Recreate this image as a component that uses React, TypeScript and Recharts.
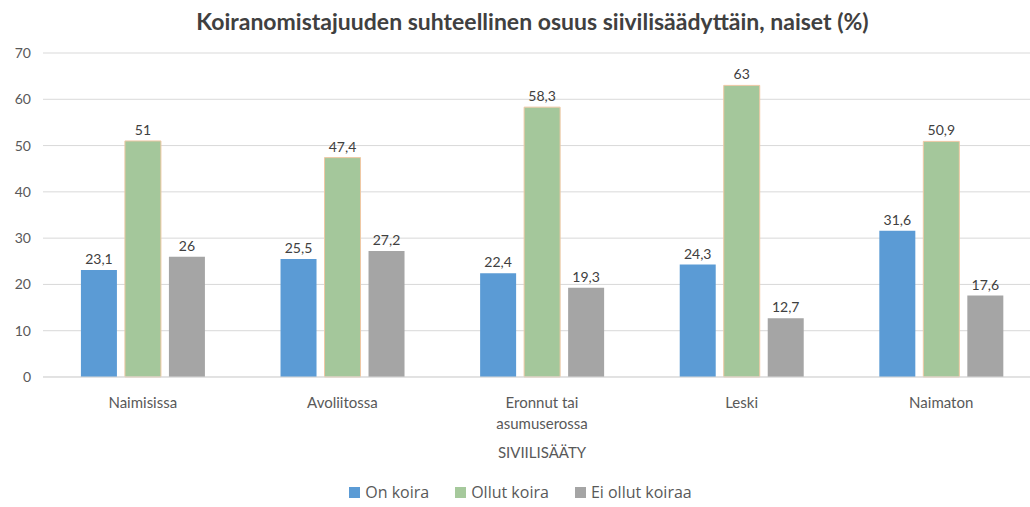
import React from "react";
import {
  Bar,
  BarChart,
  CartesianGrid,
  LabelList,
  Legend,
  XAxis,
  YAxis,
} from "recharts";

const categories = [
  "Naimisissa",
  "Avoliitossa",
  "Eronnut tai asumuserossa",
  "Leski",
  "Naimaton",
];
const onKoira = [23.1, 25.5, 22.4, 24.3, 31.6];
const ollutKoira = [51, 47.4, 58.3, 63, 50.9];
const eiOllut = [26, 27.2, 19.3, 12.7, 17.6];
const yTicks = [0, 10, 20, 30, 40, 50, 60, 70];

const series = [
  { key: "on", name: "On koira", color: "#5b9bd5" },
  { key: "ollut", name: "Ollut koira", color: "#a6c99c" },
  { key: "ei", name: "Ei ollut koiraa", color: "#a5a5a5" },
];

const data = categories.map((name, i) => ({
  name,
  on: onKoira[i],
  ollut: ollutKoira[i],
  ei: eiOllut[i],
}));

const FONT = "Lato, 'Open Sans', sans-serif";
const fmt = (v: number) => String(v).replace(".", ",");

function CatTick({ x, y, payload }: any) {
  const lines =
    payload.value === "Eronnut tai asumuserossa"
      ? ["Eronnut tai", "asumuserossa"]
      : [payload.value];
  return (
    <text x={x} y={y} textAnchor="middle" fill="#595959" fontSize={15} fontFamily={FONT}>
      {lines.map((l, i) => (
        <tspan key={i} x={x} dy={i === 0 ? 23 : 21}>
          {l}
        </tspan>
      ))}
    </text>
  );
}

function LegendBox() {
  return (
    <div
      style={{
        display: "flex",
        justifyContent: "center",
        gap: 26,
        fontFamily: "'Open Sans', sans-serif",
        fontSize: 16,
        color: "#595959",
        paddingLeft: 0,
      }}
    >
      {series.map((s) => (
        <span key={s.key} style={{ display: "flex", alignItems: "center", gap: 5 }}>
          <span style={{ width: 11, height: 11, background: s.color, display: "inline-block" }} />
          {s.name}
        </span>
      ))}
    </div>
  );
}

export default function App() {
  return (
    <div
      style={{
        position: "absolute",
        left: 0,
        top: 0,
        width: 1030,
        height: 507,
        overflow: "hidden",
        background: "#fff",
      }}
    >
      <div
        style={{
          position: "absolute",
          top: 7,
          left: 0,
          width: 1065,
          textAlign: "center",
          fontFamily: FONT,
          fontWeight: 700,
          fontSize: 23,
          color: "#404040",
        }}
      >
        Koiranomistajuuden suhteellinen osuus siivilisäädyttäin, naiset (%)
      </div>
      <BarChart
        width={1045}
        height={507}
        data={data}
        margin={{ top: 53, right: 4, bottom: 20, left: 0 }}
        barCategoryGap="19%"
        barGap={8}
      >
        <CartesianGrid vertical={false} stroke="#d9d9d9" />
        <XAxis
          dataKey="name"
          tick={<CatTick />}
          tickLine={false}
          axisLine={{ stroke: "#d9d9d9" }}
          interval={0}
          height={86}
          label={{
            value: "SIVIILISÄÄTY",
            position: "insideBottom",
            offset: 5,
            fill: "#595959",
            fontSize: 15,
            fontFamily: FONT,
          }}
        />
        <YAxis
          domain={[0, 70]}
          ticks={yTicks}
          width={43}
          tickLine={false}
          axisLine={false}
          tickMargin={6}
          tick={{ fill: "#595959", fontSize: 14, fontFamily: FONT }}
        />
        <Legend
          verticalAlign="bottom"
          content={<LegendBox />}
          wrapperStyle={{ height: 24, bottom: 2 }}
        />
        <Bar dataKey="on" name="On koira" fill="#5b9bd5" isAnimationActive={false}>
          <LabelList dataKey="on" position="top" offset={6} formatter={fmt} fill="#404040" fontSize={14} fontFamily={FONT} />
        </Bar>
        <Bar dataKey="ollut" name="Ollut koira" fill="#a4c79b" stroke="#efc8a4" strokeWidth={1} isAnimationActive={false}>
          <LabelList dataKey="ollut" position="top" offset={6} formatter={fmt} fill="#404040" fontSize={14} fontFamily={FONT} />
        </Bar>
        <Bar dataKey="ei" name="Ei ollut koiraa" fill="#a5a5a5" isAnimationActive={false}>
          <LabelList dataKey="ei" position="top" offset={6} formatter={fmt} fill="#404040" fontSize={14} fontFamily={FONT} />
        </Bar>
      </BarChart>
    </div>
  );
}
